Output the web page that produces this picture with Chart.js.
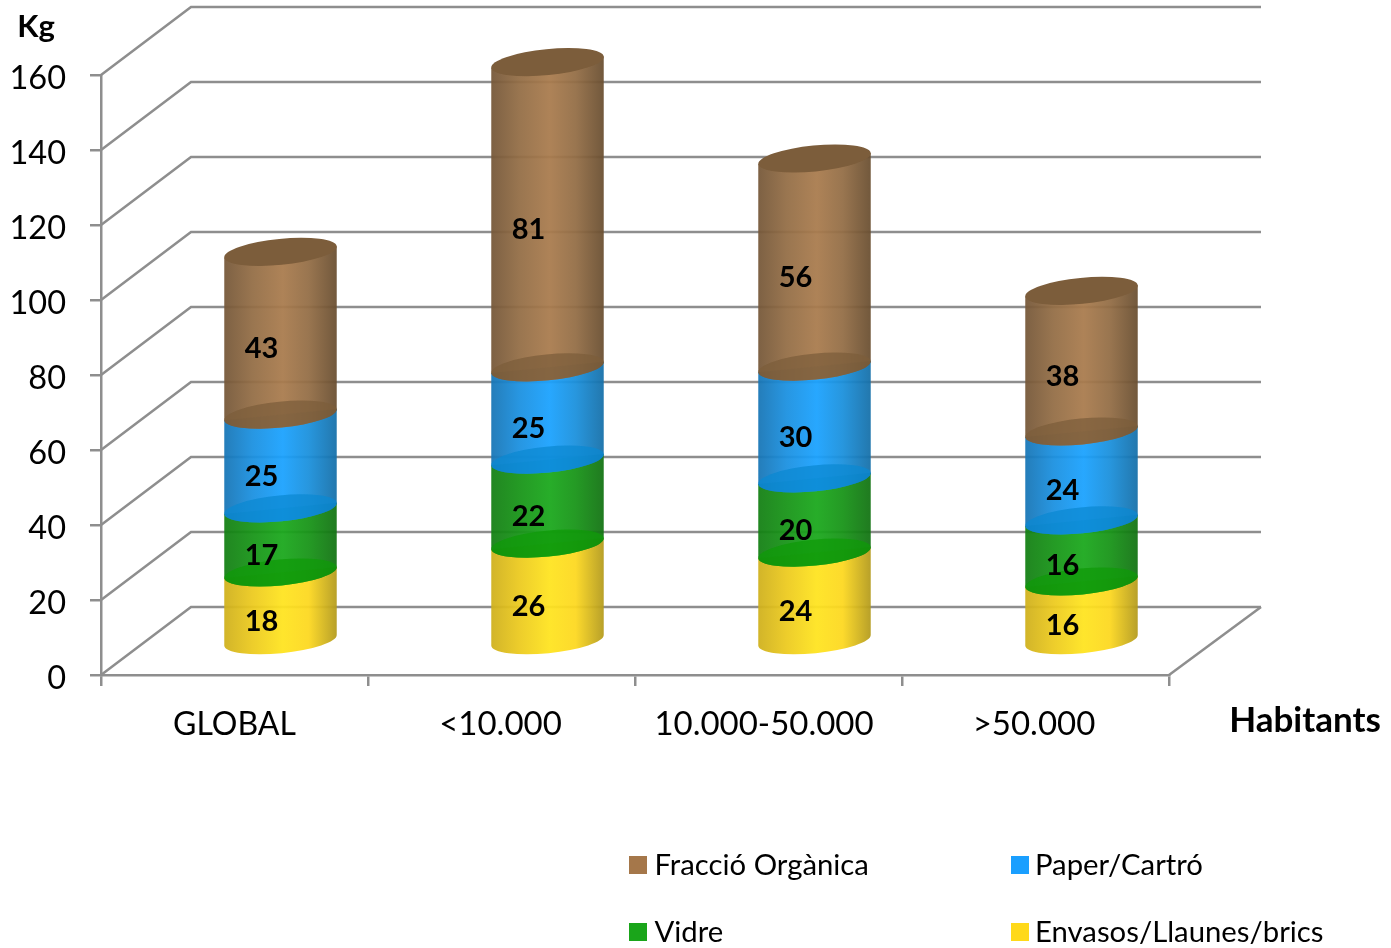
<!DOCTYPE html>
<html><head><meta charset="utf-8">
<style>html,body{margin:0;padding:0;background:#fff}canvas{display:block}</style>
<script src="https://cdn.jsdelivr.net/npm/chart.js@4"></script>
</head><body><canvas id="c" width="1391" height="948" style="width:1391px;height:948px"></canvas>
<script>
const categories = ['GLOBAL','<10.000','10.000-50.000','>50.000'];
const envasos = [18.4,26.1,23.7,16.0];
const vidre = [17.1,22.4,19.8,16.3];
const paper = [25.0,24.6,29.8,23.7];
const organica = [43.4,81.4,55.5,37.5];
const yTickStep = 20, yMax = 160;
const legendOrder = [3,2,1,0];

const FONT = 'Lato';
const GRID = '#8e8e8e';
const palette = [
  {base:'#ffd91a', stops:['#cfb01c','#ecca1e','#ffe41f','#fdd81f','#b39a1c'], cap:'#ffd91a'},
  {base:'#1aa51a', stops:['#137f13','#179417','#1aa81c','#179417','#127212'], cap:'#0f9a08'},
  {base:'#1a9fff', stops:['#1775b5','#1a90e0','#1aa2ff','#1a90dc','#156fa8'], cap:'#0b88d2'},
  {base:'#a5774a', stops:['#755738','#936d45','#a97b4d','#936d45','#694e30'], cap:'#7c5d3b'}
];
const DX = 46, DY = -33.5, RX = 56.5, RY = 13, ROT = -5.6*Math.PI/180;
const BACKX = 90, BACKY = -68;
const X_LABEL_NUDGE = [0,-1,-4.5,-1.5];

function shiftLabels(s,fn){
  if(s._shifted) return;
  s._shifted = true;
  const f = s._computeLabelItems.bind(s);
  s._computeLabelItems = a => f(a).map(fn);
}

const scene = {
  id:'scene',
  beforeDatasetsDraw(chart){
    const ctx = chart.ctx, y = chart.scales.y, a = chart.chartArea;
    ctx.save();
    ctx.strokeStyle = GRID; ctx.lineWidth = 2.5;
    y.ticks.forEach(t=>{
      const py = y.getPixelForValue(t.value);
      ctx.beginPath();
      ctx.moveTo(a.left,py);
      ctx.lineTo(a.left+BACKX,py+BACKY);
      ctx.lineTo(a.right+BACKX+2,py+BACKY);
      ctx.stroke();
    });
    ctx.beginPath();
    ctx.moveTo(a.right,a.bottom);
    ctx.lineTo(a.right+BACKX+2,a.bottom+BACKY);
    ctx.stroke();
    // cylinders, from the bar elements computed by the library
    const dsN = chart.data.datasets.length;
    const n = chart.data.labels.length;
    const cosR = Math.cos(ROT), sinR = Math.sin(ROT);
    for(let i=0;i<n;i++){
      for(let d=0;d<dsN;d++){
        const el = chart.getDatasetMeta(d).data[i];
        const cx = el.x+DX, yT = el.y+DY, yB = el.base+DY;
        const g = ctx.createLinearGradient(cx-RX,0,cx+RX,0);
        const st = palette[d].stops;
        [0,.25,.52,.75,1].forEach((p,k)=>g.addColorStop(p,st[k]));
        ctx.globalAlpha = .94;
        ctx.fillStyle = g;
        ctx.beginPath();
        ctx.ellipse(cx,yB,RX,RY,ROT,0,Math.PI,false);
        ctx.lineTo(cx-RX*cosR,yT-RX*sinR);
        ctx.lineTo(cx+RX*cosR,yT+RX*sinR);
        ctx.closePath();
        ctx.fill();
        ctx.globalAlpha = 1;
        if(d>0){
          ctx.fillStyle = palette[d].cap;
          ctx.globalAlpha = .75;
          ctx.beginPath();
          ctx.ellipse(cx,yB,RX,RY,ROT,0,Math.PI*2);
          ctx.fill();
          ctx.globalAlpha = 1;
        }
        if(d===dsN-1){
          ctx.fillStyle = palette[d].cap;
          ctx.beginPath();
          ctx.ellipse(cx,yT,RX,RY,ROT,0,Math.PI*2);
          ctx.fill();
        }
      }
    }
    // value labels
    ctx.fillStyle='#000';
    ctx.font='bold 29px '+FONT;
    ctx.textAlign='center'; ctx.textBaseline='middle';
    for(let d=0;d<dsN;d++){
      const meta = chart.getDatasetMeta(d);
      meta.data.forEach((el,i)=>{
        ctx.fillText(String(Math.round(chart.data.datasets[d].data[i])),el.x+27,(el.y+el.base)/2-18.5);
      });
    }
    // axis titles
    ctx.font='bold 31px '+FONT;
    ctx.fillText('Kg',36,27);
    ctx.font='bold 35px '+FONT;
    ctx.fillText('Habitants',1305,721);
    // legend
    ctx.font='29.3px '+FONT;
    ctx.textAlign='left';
    const cols=[629,1011], rows=[865,932];
    legendOrder.forEach((d,k)=>{
      const lx=cols[k%2], ly=rows[Math.floor(k/2)];
      ctx.fillStyle=palette[d].base;
      ctx.fillRect(lx,ly-9,18,18);
      ctx.fillStyle='#000';
      ctx.fillText(chart.data.datasets[d].label,lx+(k%2?24:25.5),ly+1);
    });
    ctx.restore();
    return false;
  }
};

new Chart(document.getElementById('c'),{
  type:'bar',
  data:{labels:categories,datasets:[
    {label:'Envasos/Llaunes/brics',data:envasos,backgroundColor:palette[0].base},
    {label:'Vidre',data:vidre,backgroundColor:palette[1].base},
    {label:'Paper/Cartró',data:paper,backgroundColor:palette[2].base},
    {label:'Fracció Orgànica',data:organica,backgroundColor:palette[3].base}
  ]},
  options:{
    responsive:false,animation:false,devicePixelRatio:1,
    barThickness:112,
    layout:{padding:{left:0,top:75,right:222,bottom:213}},
    plugins:{legend:{display:false},tooltip:{enabled:false}},
    scales:{
      x:{stacked:true,
        afterFit(s){s.height=60},
        afterUpdate(s){
          shiftLabels(s,(it,i)=>{
            const t=it.options.translation;
            return Object.assign({},it,{options:Object.assign({},it.options,{translation:[t[0]+X_LABEL_NUDGE[i],t[1]]})});
          });
        },
        grid:{drawOnChartArea:false,color:GRID,lineWidth:2.5,tickLength:11,tickColor:GRID},
        border:{color:GRID,width:2.5},
        ticks:{color:'#000',font:c=>({family:FONT,size:c.index===0?32:33}),padding:19,maxRotation:0,autoSkip:false}},
      y:{stacked:true,min:0,max:yMax,
        afterFit(s){s.width=101},
        afterUpdate(s){
          shiftLabels(s,it=>Object.assign({},it,{textOffset:it.textOffset+3.5}));
        },
        grid:{drawOnChartArea:false,color:GRID,lineWidth:2.5,tickLength:11,tickColor:GRID},
        border:{color:GRID,width:2.5},
        ticks:{stepSize:yTickStep,color:'#000',font:{family:FONT,size:32.5},padding:24}}
    }
  },
  plugins:[scene]
});
</script></body></html>
